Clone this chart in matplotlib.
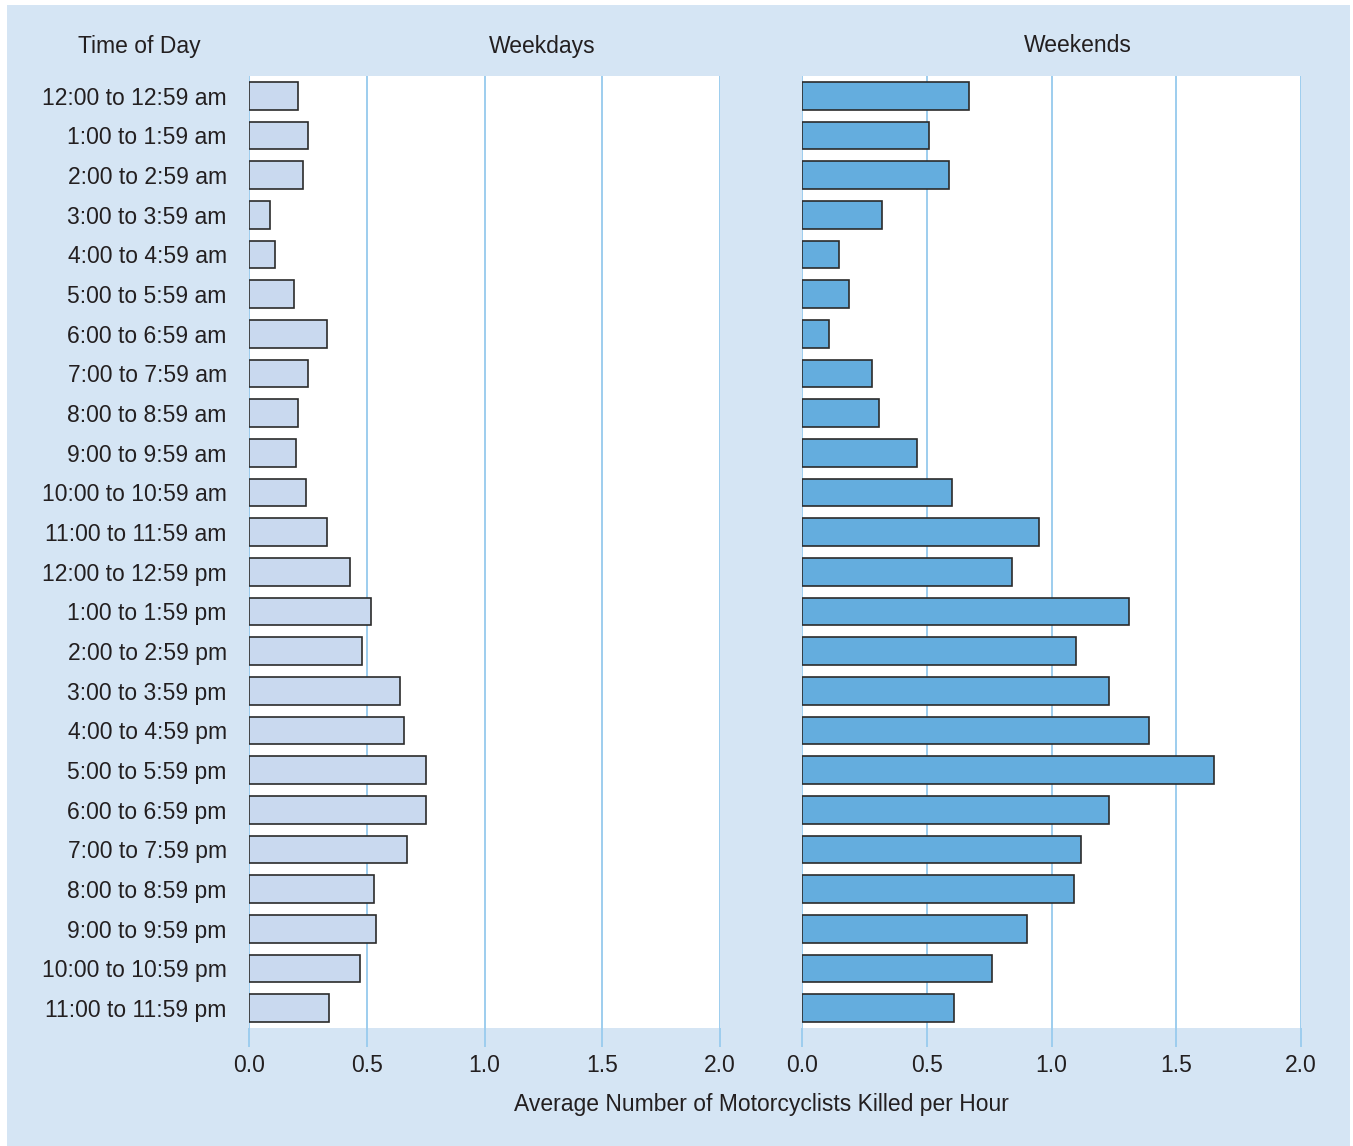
import matplotlib
matplotlib.use("Agg")
import matplotlib.pyplot as plt
from matplotlib.patches import Rectangle
import numpy as np

plt.rcParams['font.family'] = ['Liberation Sans', 'DejaVu Sans']

hours = [
    "12:00 to 12:59 am", "1:00 to 1:59 am", "2:00 to 2:59 am", "3:00 to 3:59 am",
    "4:00 to 4:59 am", "5:00 to 5:59 am", "6:00 to 6:59 am", "7:00 to 7:59 am",
    "8:00 to 8:59 am", "9:00 to 9:59 am", "10:00 to 10:59 am", "11:00 to 11:59 am",
    "12:00 to 12:59 pm", "1:00 to 1:59 pm", "2:00 to 2:59 pm", "3:00 to 3:59 pm",
    "4:00 to 4:59 pm", "5:00 to 5:59 pm", "6:00 to 6:59 pm", "7:00 to 7:59 pm",
    "8:00 to 8:59 pm", "9:00 to 9:59 pm", "10:00 to 10:59 pm", "11:00 to 11:59 pm",
]
weekdays = [0.21, 0.25, 0.23, 0.09, 0.11, 0.19, 0.33, 0.25, 0.21, 0.20, 0.24, 0.33,
            0.43, 0.52, 0.48, 0.64, 0.66, 0.75, 0.75, 0.67, 0.53, 0.54, 0.47, 0.34]
weekends = [0.67, 0.51, 0.59, 0.32, 0.15, 0.19, 0.11, 0.28, 0.31, 0.46, 0.60, 0.95,
            0.84, 1.31, 1.10, 1.23, 1.39, 1.65, 1.23, 1.12, 1.09, 0.90, 0.76, 0.61]
xticks = [0.0, 0.5, 1.0, 1.5, 2.0]
xtick_labels = ["0.0", "0.5", "1.0", "1.5", "2.0"]

BG = "#D5E5F4"
GRID = "#9DCDEE"
TEXT = "#231F20"
WEEKDAY_COLOR = "#C9D9EF"
WEEKEND_COLOR = "#64ADDE"
EDGE = "#2B2B2B"
FS = 16.5

W, H = 1353, 1146
fig = plt.figure(figsize=(W / 100, H / 100), dpi=100)
fig.patch.set_facecolor("white")

# light blue panel behind everything
fig.patches.append(Rectangle((7 / W, 0), (1350 - 7) / W, (H - 5) / H,
                             transform=fig.transFigure, facecolor=BG,
                             edgecolor="none", zorder=-10))

bottom = 1 - 1028 / H
height = (1028 - 76) / H
ax_l = fig.add_axes([249 / W, bottom, (720 - 249) / W, height])
ax_r = fig.add_axes([802 / W, bottom, (1301 - 802) / W, height])

y = np.arange(len(hours))
for ax, vals, color in [(ax_l, weekdays, WEEKDAY_COLOR), (ax_r, weekends, WEEKEND_COLOR)]:
    ax.set_facecolor("white")
    ax.barh(y, vals, height=0.7, color=color, edgecolor=EDGE, linewidth=1.2, zorder=3)
    ax.set_xlim(0, 2.0)
    ax.set_ylim(len(hours) - 0.5, -0.5)
    for spine in ax.spines.values():
        spine.set_visible(False)
    ax.set_xticks(xticks)
    ax.set_xticklabels(xtick_labels)
    ax.tick_params(axis="x", length=14, width=1.4, color=GRID, labelsize=FS,
                   labelcolor=TEXT, pad=5)
    ax.xaxis.grid(True, color=GRID, linewidth=1.4, zorder=1)
    ax.set_axisbelow(True)
    ax.set_yticks(y)
    ax.tick_params(axis="y", length=0)

ax_l.set_yticklabels(hours, fontsize=FS, color=TEXT)
ax_l.tick_params(axis="y", pad=16)
ax_r.set_yticklabels([])

fig.text(139 / W, 1 - 46 / H, "Time of Day", ha="center", va="center", fontsize=FS, color=TEXT)
fig.text(542 / W, 1 - 46 / H, "Weekdays", ha="center", va="center", fontsize=FS, color=TEXT)
fig.text(1078 / W, 1 - 46 / H, "Weekends", ha="center", va="center", fontsize=FS, color=TEXT)
fig.text(761 / W, 1 - 1105 / H, "Average Number of Motorcyclists Killed per Hour",
         ha="center", va="center", fontsize=FS, color=TEXT)

fig.savefig("out.png", dpi=100, facecolor=fig.get_facecolor())
